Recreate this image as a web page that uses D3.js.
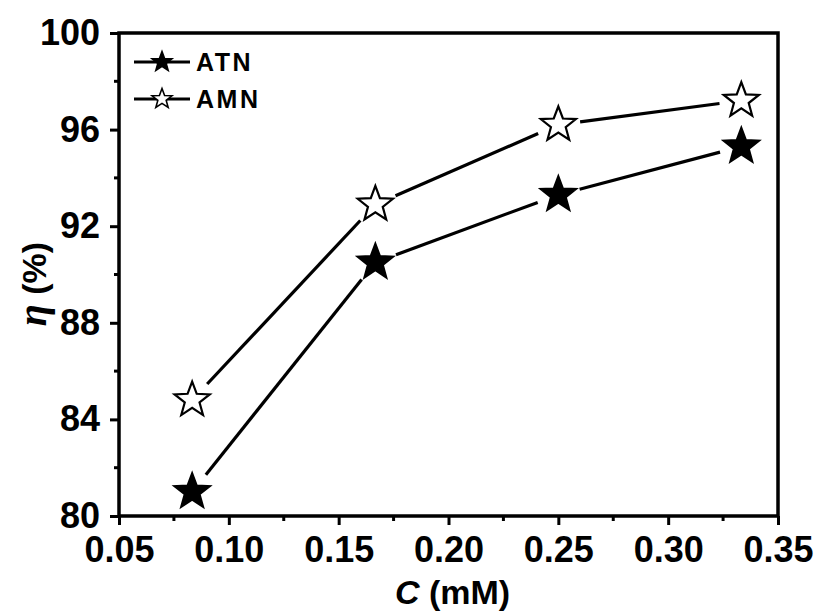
<!DOCTYPE html>
<html><head><meta charset="utf-8">
<script src="https://cdn.jsdelivr.net/npm/d3@7"></script>
<style>
html,body{margin:0;padding:0;background:#fff;}
svg{display:block;}
text{font-family:"Liberation Sans",Arial,sans-serif;font-weight:bold;fill:#000;}
</style></head>
<body>
<svg id="chart" width="816" height="611"></svg>
<script>
const concentrations = [0.0833, 0.1667, 0.25, 0.3333];
const atnValues = [81.0, 90.5, 93.3, 95.3];
const amnValues = [84.8, 92.9, 96.2, 97.2];
const seriesNames = ["ATN", "AMN"];
const xTicks = [0.05, 0.10, 0.15, 0.20, 0.25, 0.30, 0.35];
const yTicks = [80, 84, 88, 92, 96, 100];

const svg = d3.select("#chart");
const L = 119, R = 778, T = 33, B = 516;
const x = d3.scaleLinear().domain([0.05, 0.35]).range([L, R]);
const y = d3.scaleLinear().domain([80, 100]).range([B, T]);

function starPath(r, ratio) {
  const pts = [];
  for (let i = 0; i < 10; i++) {
    const rr = i % 2 === 0 ? r : r * ratio;
    const a = -Math.PI / 2 + i * Math.PI / 5;
    pts.push([rr * Math.cos(a), rr * Math.sin(a)]);
  }
  return "M" + pts.map(p => p[0].toFixed(2) + "," + p[1].toFixed(2)).join("L") + "Z";
}

const xMinor = d3.range(0.075, 0.35, 0.05);
const yMinor = d3.range(82, 100, 4);
const axisW = 3.5;

// bottom axis
const gx = svg.append("g").attr("transform", `translate(0,${B})`);
gx.call(d3.axisBottom(x).tickValues(xTicks).tickFormat(d3.format(".2f")).tickSize(9).tickPadding(11));
gx.select(".domain").remove();
gx.selectAll(".tick line").attr("stroke", "#000").attr("stroke-width", 3);
gx.selectAll(".tick text").attr("font-size", 36).attr("font-family", "Liberation Sans, Arial, sans-serif").attr("font-weight", "bold").attr("dy", "0.71em");
gx.selectAll(".minor").data(xMinor).enter().append("line")
  .attr("x1", d => x(d)).attr("x2", d => x(d)).attr("y1", 0).attr("y2", 5)
  .attr("stroke", "#000").attr("stroke-width", 3);

// left axis
const gy = svg.append("g").attr("transform", `translate(${L},0)`);
gy.call(d3.axisLeft(y).tickValues(yTicks).tickFormat(d3.format("d")).tickSize(9).tickPadding(10));
gy.select(".domain").remove();
gy.selectAll(".tick line").attr("stroke", "#000").attr("stroke-width", 3);
gy.selectAll(".tick text").attr("font-size", 36).attr("font-family", "Liberation Sans, Arial, sans-serif").attr("font-weight", "bold");
gy.selectAll(".minor").data(yMinor).enter().append("line")
  .attr("x1", 0).attr("x2", -5).attr("y1", d => y(d)).attr("y2", d => y(d))
  .attr("stroke", "#000").attr("stroke-width", 3);

// frame
svg.append("rect").attr("x", L).attr("y", T).attr("width", R - L).attr("height", B - T)
  .attr("fill", "none").attr("stroke", "#000").attr("stroke-width", axisW);

// series
const series = [
  {name: seriesNames[0], vals: atnValues, fill: "#000"},
  {name: seriesNames[1], vals: amnValues, fill: "#fff"}
];
const gap = 22;
series.forEach(s => {
  const pts = concentrations.map((c, i) => [x(c), y(s.vals[i])]);
  for (let i = 0; i < pts.length - 1; i++) {
    const [x1, y1] = pts[i], [x2, y2] = pts[i + 1];
    const dx = x2 - x1, dy = y2 - y1, len = Math.hypot(dx, dy);
    const ux = dx / len, uy = dy / len;
    svg.append("line")
      .attr("x1", x1 + ux * gap).attr("y1", y1 + uy * gap)
      .attr("x2", x2 - ux * gap).attr("y2", y2 - uy * gap)
      .attr("stroke", "#000").attr("stroke-width", 3.2);
  }
  svg.selectAll(null).data(pts).enter().append("path")
    .attr("d", starPath(18.5, 0.42))
    .attr("transform", d => `translate(${d[0]},${d[1]})`)
    .attr("fill", s.fill).attr("stroke", "#000").attr("stroke-width", 2.2)
    .attr("stroke-linejoin", "miter");
});

// legend
const legY = [62, 99];
series.forEach((s, i) => {
  const g = svg.append("g").attr("transform", `translate(0,${legY[i]})`);
  g.append("line").attr("x1", 134).attr("x2", 190).attr("y1", 0).attr("y2", 0)
    .attr("stroke", "#000").attr("stroke-width", 3);
  g.append("path").attr("d", starPath(10.5, 0.42)).attr("transform", "translate(162,0)")
    .attr("fill", s.fill).attr("stroke", "#000").attr("stroke-width", 1.6);
  g.append("text").attr("x", 196).attr("y", 0).attr("dy", "0.36em")
    .attr("font-size", 25).attr("letter-spacing", 2.5).text(s.name);
});

// axis titles
const xt = svg.append("text").attr("x", (L + R) / 2 + 4).attr("y", 604)
  .attr("text-anchor", "middle").attr("font-size", 34);
xt.append("tspan").attr("font-style", "italic").text("C");
xt.append("tspan").text(" (mM)");

const yt = svg.append("text").attr("transform", `translate(46,284) rotate(-90)`)
  .attr("text-anchor", "middle").attr("font-size", 34);
yt.append("tspan").attr("font-family", "Liberation Serif, serif").attr("font-style", "italic").attr("font-size", 40).text("η");
yt.append("tspan").text(" (%)");
</script>
</body></html>
